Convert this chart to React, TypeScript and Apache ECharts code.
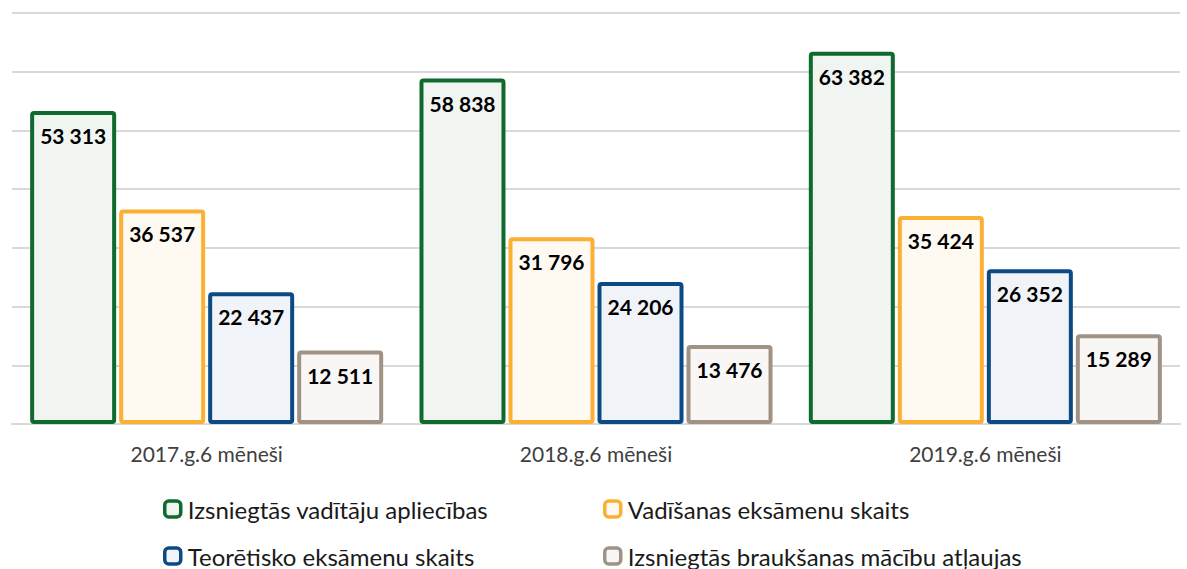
import React, { useEffect, useRef } from "react";
import * as echarts from "echarts";

const categories = ["2017.g.6 mēneši", "2018.g.6 mēneši", "2019.g.6 mēneši"];
const seriesNames = [
  "Izsniegtās vadītāju apliecības",
  "Vadīšanas eksāmenu skaits",
  "Teorētisko eksāmenu skaits",
  "Izsniegtās braukšanas mācību atļaujas",
];
const licences = [53313, 58838, 63382];
const drivingExams = [36537, 31796, 35424];
const theoryExams = [22437, 24206, 26352];
const permits = [12511, 13476, 15289];

const borderColors = ["#0F6A2E", "#FBB034", "#0B4A83", "#A09385"];
const fillColors = ["#F1F5F2", "#FEFAF2", "#F0F4F8", "#F8F7F6"];
const legendPos = [
  { left: 163, top: 497 },
  { left: 603, top: 497 },
  { left: 163, top: 544 },
  { left: 603, top: 544 },
];

const fmt = (v: number) => String(v).replace(/\B(?=(\d{3})+(?!\d))/g, " ");

export default function App() {
  const ref = useRef<HTMLDivElement>(null);
  useEffect(() => {
    if (!ref.current) return;
    const chart = echarts.init(ref.current, null, { renderer: "svg" });
    const values = [licences, drivingExams, theoryExams, permits];
    chart.setOption({
      animation: false,
      grid: { left: 12, right: 7, top: 13, bottom: 145 },
      xAxis: {
        type: "category",
        data: categories,
        axisTick: { show: false },
        axisLine: { lineStyle: { color: "#D9D9D9", width: 2 } },
        axisLabel: {
          color: "#404040",
          fontFamily: "Lato",
          fontSize: 21,
          margin: 19,
        },
      },
      yAxis: {
        type: "value",
        min: 0,
        max: 70000,
        interval: 10000,
        axisLabel: { show: false },
        axisLine: { show: false },
        axisTick: { show: false },
        splitLine: { lineStyle: { color: "#D9D9D9", width: 2 } },
      },
      legend: seriesNames.map((name, i) => ({
        data: [name],
        left: legendPos[i].left,
        top: legendPos[i].top,
        padding: 0,
        icon: "roundRect",
        itemWidth: 16,
        itemHeight: 16,
        itemGap: 6,
        textStyle: { fontFamily: "Lato", fontSize: 24, color: "#1a1a1a", padding: [0, 0, 0, 2] },
        itemStyle: { borderWidth: 3.5, borderColor: borderColors[i], color: fillColors[i] },
      })),
      series: seriesNames.map((name, i) => ({
        type: "bar",
        name,
        data: values[i],
        barWidth: 86,
        barGap: "3.5%",
        itemStyle: {
          color: fillColors[i],
          borderColor: borderColors[i],
          borderWidth: 4,
          borderRadius: 2,
        },
        label: {
          show: true,
          position: "insideTop",
          distance: 14,
          formatter: (p: any) => fmt(p.value),
          fontFamily: "Lato",
          fontWeight: "bold",
          fontSize: 21,
          color: "#000",
        },
      })),
    });
    return () => chart.dispose();
  }, []);
  return <div ref={ref} style={{ width: 1187, height: 569, position: "absolute", left: 0, top: 0 }} />;
}
